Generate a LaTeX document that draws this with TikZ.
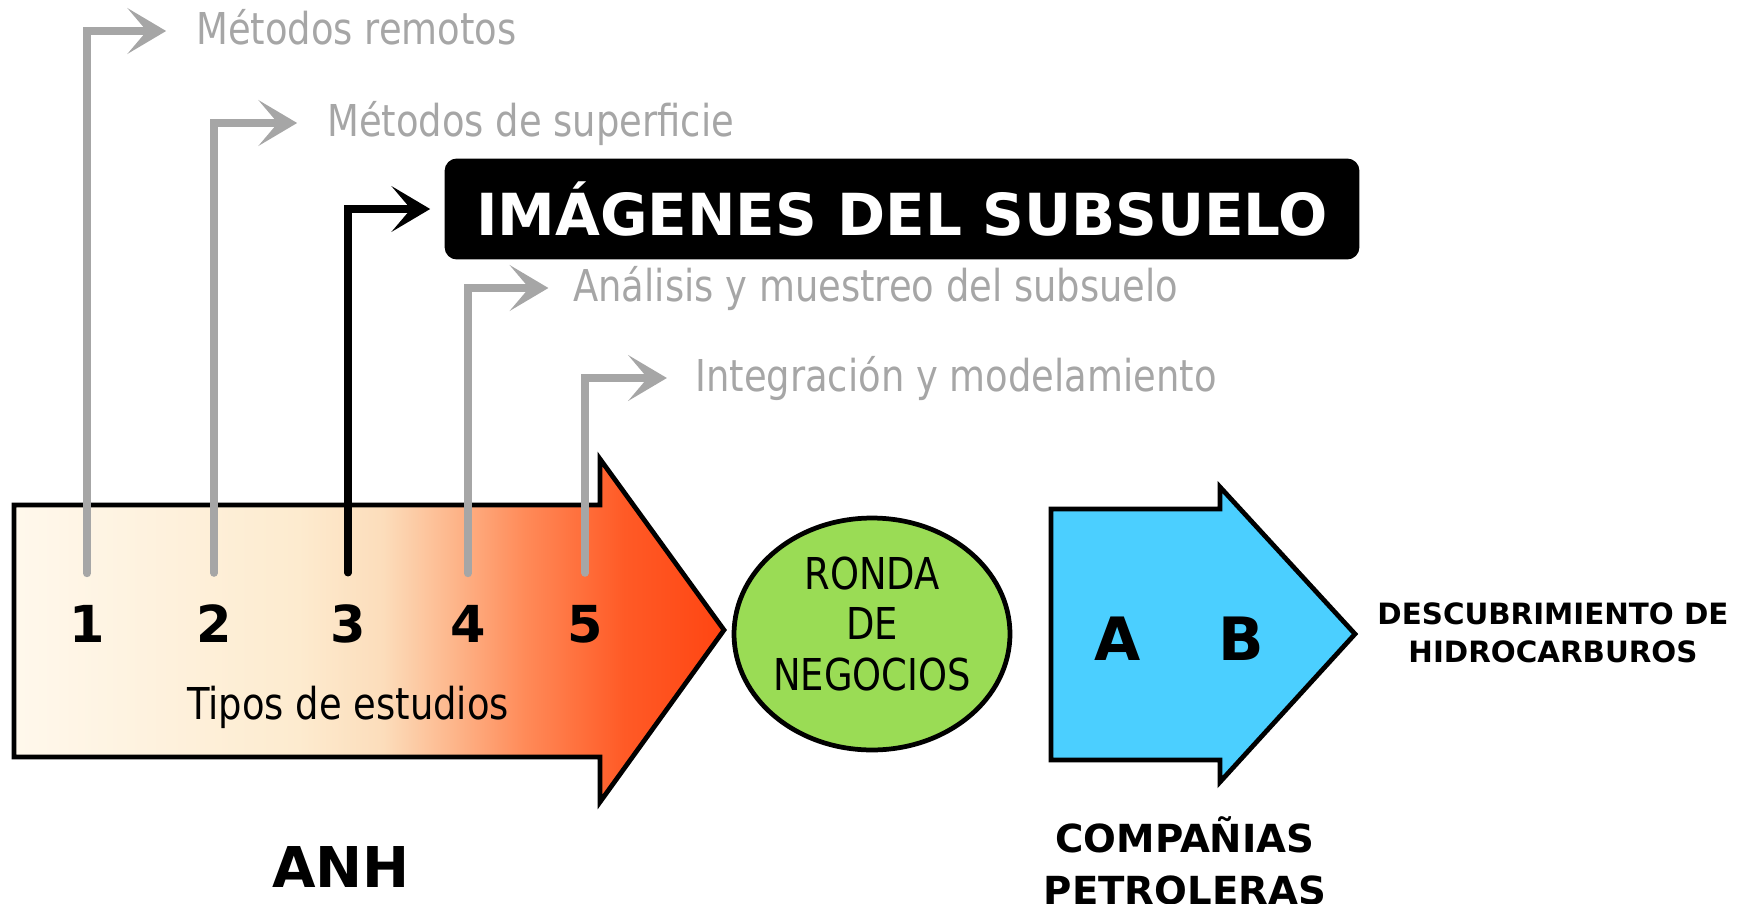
\documentclass[tikz,border=0pt]{standalone}
\usepackage{fontspec}
\setmainfont{DejaVu Sans}[FakeStretch=0.84]
\newfontfamily\heavyfont{DejaVu Sans}
\usetikzlibrary{positioning, arrows.meta, shapes.geometric}

\definecolor{stemgray}{HTML}{A6A6A6}
\definecolor{anhA}{HTML}{FFF8EC}
\definecolor{anhB}{HTML}{FDEBCF}
\definecolor{anhC}{HTML}{FCDDBB}
\definecolor{anhD}{HTML}{FDB58A}
\definecolor{anhE}{HTML}{FF8A58}
\definecolor{anhF}{HTML}{FF5A26}
\definecolor{anhG}{HTML}{FF4512}
\definecolor{rondagreen}{HTML}{9ADC55}
\definecolor{compblue}{HTML}{4BCFFF}
\pgfdeclarehorizontalshading{anhshade}{100bp}{color(0bp)=(anhA); color(25bp)=(anhA);
  color(45bp)=(anhB); color(51bp)=(anhC); color(56bp)=(anhD); color(61bp)=(anhE);
  color(68bp)=(anhF); color(75bp)=(anhG); color(100bp)=(anhG)}

\begin{document}
\begin{tikzpicture}[x=0.02cm, y=-0.02cm,
    stem/.style={draw=stemgray, line width=4.2pt, line cap=round,
      shorten <=18pt, -{Stealth[length=22pt, width=26pt, inset=11pt]}},
    graylabel/.style={anchor=west, inner sep=0pt, text=stemgray,
      font=\fontsize{25}{30}\selectfont, text height=19pt, text depth=4pt},
    num/.style={inner sep=0pt, font=\heavyfont\bfseries\fontsize{29}{32}\selectfont},
    plain/.style={inner sep=0pt, align=center, font=\fontsize{25}{28.7}\selectfont},
    heavy/.style 2 args={inner sep=0pt, align=center, font=\heavyfont\bfseries\fontsize{#1}{#2}\selectfont},
    outline/.style={draw=black, line width=2.7pt, line join=miter}]
  \useasboundingbox (0,0) rectangle (1748,903);

  \shadedraw[shading=anhshade, outline] (14,505) -- (600,505) -- (600,459) -- (724,630)
    -- (600,802) -- (600,757) -- (14,757) -- cycle;
  \filldraw[fill=compblue, outline] (1051,509) -- (1220,509) -- (1220,487) -- (1355,634)
    -- (1220,782) -- (1220,760) -- (1051,760) -- cycle;

  \node[num] (n1) at (87,624) {1};
  \node[num] (n2) at (214,624) {2};
  \node[num] (n3) at (348,624) {3};
  \node[num] (n4) at (468,624) {4};
  \node[num] (n5) at (585,624) {5};
  \node[plain] (types) at (348,707) {Tipos de estudios};
  \node[heavy={32}{38}] (anh) at (341,867) {ANH};

  \node[graylabel] (l1) at (196,31) {Métodos remotos};
  \node[graylabel] (l2) at (327,123) {Métodos de superficie};
  \node[fill=black, rounded corners=7pt, minimum width=18.3cm, minimum height=2.02cm,
    text=white, font=\heavyfont\bfseries\fontsize{33}{36}\selectfont] (l3) at (902,209)
    {IMÁGENES DEL SUBSUELO};
  \node[graylabel] (l4) at (573,288) {Análisis y muestreo del subsuelo};
  \node[graylabel] (l5) at (695,378) {Integración y modelamiento};

  \draw[stem, shorten >=17pt] (n1.north) |- (l1.west);
  \draw[stem, shorten >=17pt] (n2.north) |- (l2.west);
  \draw[stem, draw=black, shorten >=8pt] (n3.north) |- (l3.west);
  \draw[stem, shorten >=14pt] (n4.north) |- (l4.west);
  \draw[stem, shorten >=16pt] (n5.north) |- (l5.west);

  \node[ellipse, fill=rondagreen, outline, minimum width=5.52cm, minimum height=4.64cm]
    (ronda) at (872,634) {};
  \node[plain] (rondatext) at (872,624) {RONDA\\DE\\NEGOCIOS};

  \node[heavy={34}{40}] (a) at (1118,639) {A};
  \node[heavy={34}{40}] (b) at (1241,639) {B};
  \node[heavy={16.7}{21.6}] (discovery) at (1553,633) {DESCUBRIMIENTO DE\\HIDROCARBUROS};
  \node[heavy={22}{29.6}] (companies) at (1185,861) {COMPAÑIAS\\PETROLERAS};
\end{tikzpicture}
\end{document}
